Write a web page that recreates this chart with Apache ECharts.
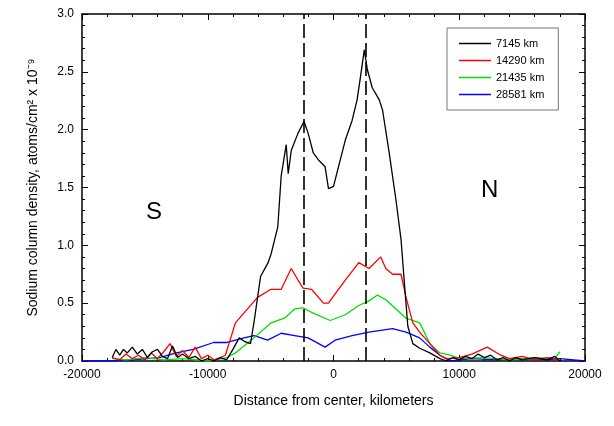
<!DOCTYPE html>
<html><head><meta charset="utf-8">
<script src="https://cdn.jsdelivr.net/npm/echarts@6/dist/echarts.min.js"></script>
<style>html,body{margin:0;padding:0;background:#fff}#c{width:614px;height:426px}</style>
</head><body><div id="c"></div>
<script>
var names = ['7145 km', '14290 km', '21435 km', '28581 km'];
var colors = ['#000000', '#ff0000', '#00e000', '#0000ff'];
var centers = [-2350, 2550];

var s7145 = [[-17600,0.03],[-17300,0.1],[-17000,0.05],[-16700,0.1],[-16400,0.07],[-16000,0.12],[-15600,0.06],[-15200,0.1],[-14800,0.03],[-14400,0.08],[-14000,0.1],[-13600,0.04],[-13200,0.02],[-12800,0.13],[-12400,0.03],[-12000,0.06],[-11500,0.02],[-11000,0.04],[-10500,0],[-10000,0.02],[-9500,0],[-9000,0.03],[-8500,0.01],[-8000,0.1],[-7500,0.2],[-7100,0.17],[-6600,0.15],[-6300,0.35],[-5800,0.73],[-5200,0.85],[-4950,0.93],[-4430,1.16],[-4160,1.6],[-3760,1.87],[-3600,1.62],[-3360,1.82],[-2820,1.97],[-2340,2.07],[-2020,1.97],[-1610,1.8],[-1210,1.74],[-670,1.68],[-400,1.49],[0,1.51],[400,1.68],[940,1.91],[1480,2.08],[1880,2.26],[2150,2.46],[2450,2.69],[2690,2.52],[3090,2.36],[3630,2.26],[3900,2.17],[4430,1.8],[4970,1.39],[5370,1.05],[5640,0.67],[5910,0.3],[6310,0.15],[6850,0.11],[7660,0.07],[8460,0.02],[9000,0],[9500,0.03],[10000,0.01],[10500,0.04],[11000,0.02],[11500,0.06],[12000,0.03],[12500,0.05],[13000,0.01],[13500,0.03],[14000,0],[14500,0.03],[15000,0.01],[16000,0.03],[17000,0.01],[17600,0.04],[18000,0]];
var s14290 = [[-17600,0.03],[-17000,0.01],[-16500,0.06],[-16000,0.02],[-15500,0.05],[-15000,0.01],[-14500,0.07],[-14000,0.02],[-13500,0.08],[-13000,0.15],[-12500,0.04],[-12000,0.09],[-11500,0.03],[-11000,0.12],[-10500,0.02],[-10000,0.05],[-9500,0.01],[-9000,0.03],[-8600,0.05],[-7800,0.33],[-6040,0.55],[-4970,0.62],[-4160,0.62],[-3360,0.8],[-2820,0.7],[-2420,0.63],[-1750,0.62],[-800,0.5],[-400,0.5],[130,0.58],[940,0.7],[2010,0.85],[2820,0.8],[3760,0.9],[4160,0.8],[4700,0.75],[5370,0.75],[5770,0.55],[6310,0.33],[6850,0.25],[7660,0.15],[8460,0.05],[9000,0.02],[10000,0.03],[11000,0.06],[12230,0.12],[13300,0.05],[14000,0.02],[15000,0.04],[16000,0.01],[17000,0.03],[17600,0.02],[18000,0]];
var s21435 = [[-17600,0.02],[-16500,0.01],[-15000,0.03],[-13500,0.01],[-12000,0.02],[-10000,0],[-8460,0.03],[-7800,0.07],[-6310,0.2],[-4970,0.33],[-3900,0.37],[-3090,0.45],[-2420,0.46],[-1750,0.42],[-270,0.35],[940,0.4],[2010,0.48],[2820,0.52],[3490,0.57],[4160,0.53],[4970,0.45],[5770,0.37],[6850,0.33],[7660,0.15],[8460,0.07],[9270,0.05],[10070,0.02],[12000,0.03],[14000,0.01],[16000,0.03],[17600,0.02],[18000,0.08]];
var s28581 = [[-20000,0],[-17600,0],[-16000,0.01],[-13840,0.03],[-12500,0.07],[-11150,0.1],[-9540,0.16],[-8460,0.16],[-7120,0.2],[-6310,0.22],[-5240,0.18],[-4160,0.24],[-3090,0.22],[-2020,0.2],[-670,0.12],[130,0.18],[1480,0.22],[2820,0.25],[4700,0.28],[5770,0.25],[6850,0.2],[7660,0.12],[8460,0.05],[9270,0],[11000,0.02],[13000,0.01],[15000,0.02],[17000,0.01],[18000,0.02],[20000,0]];
var seriesData = [s7145, s14290, s21435, s28581];

var chart = echarts.init(document.getElementById('c'));
function axisBase() {
  return {
    axisLine: {show: true, onZero: false, lineStyle: {color: '#000', width: 1.5}},
    axisTick: {show: true, inside: true, length: 6, lineStyle: {color: '#000'}},
    minorTick: {show: true, splitNumber: 5, length: 3, lineStyle: {color: '#000'}},
    splitLine: {show: false}
  };
}
var lbl = {fontFamily: 'Liberation Sans', fontSize: 12, color: '#000'};
var series = seriesData.map(function (d, i) {
  var s = {name: names[i], type: 'line', data: d, showSymbol: false, symbol: 'none',
    lineStyle: {color: colors[i], width: 1.3}, itemStyle: {color: colors[i]}, z: 5 - i};
  if (i === 0) {
    s.markLine = {silent: true, symbol: 'none', label: {show: false},
      lineStyle: {color: '#000', type: [14, 5], width: 1.6},
      data: centers.map(function (c) { return {xAxis: c}; })};
  }
  return s;
});
chart.setOption({
  animation: false,
  grid: {left: 82, right: 29, top: 14, bottom: 65},
  legend: {
    data: names, orient: 'vertical', left: 447, top: 28, width: 120,
    itemWidth: 32, itemHeight: 1.5, itemGap: 6, padding: [10, 14, 10, 12],
    borderColor: '#777', borderWidth: 1,
    icon: 'rect', textStyle: {fontFamily: 'Liberation Sans', fontSize: 11, color: '#000'}
  },
  xAxis: [
    Object.assign(axisBase(), {type: 'value', min: -20000, max: 20000, interval: 10000,
      name: 'Distance from center, kilometers', nameLocation: 'middle', nameGap: 33,
      nameTextStyle: {fontFamily: 'Liberation Sans', fontSize: 14, color: '#000'},
      axisLabel: Object.assign({formatter: function (v) { return String(v); }}, lbl)}),
    Object.assign(axisBase(), {type: 'value', position: 'top', min: -20000, max: 20000, interval: 10000,
      axisLabel: {show: false}})
  ],
  yAxis: [
    Object.assign(axisBase(), {type: 'value', min: 0, max: 3, interval: 0.5,
      name: 'Sodium column density, atoms/cm\u00b2 x 10\u207b\u2079', nameLocation: 'middle', nameGap: 42,
      nameTextStyle: {fontFamily: 'Liberation Sans', fontSize: 14, color: '#000'},
      axisLabel: Object.assign({formatter: function (v) { return v.toFixed(1); }}, lbl)}),
    Object.assign(axisBase(), {type: 'value', position: 'right', min: 0, max: 3, interval: 0.5,
      axisLabel: {show: false}})
  ],
  graphic: [
    {type: 'text', left: 146, top: 200, style: {text: 'S', font: '24px Liberation Sans', fill: '#000'}},
    {type: 'text', left: 481, top: 178, style: {text: 'N', font: '24px Liberation Sans', fill: '#000'}}
  ],
  series: series
});
</script>
</body></html>
